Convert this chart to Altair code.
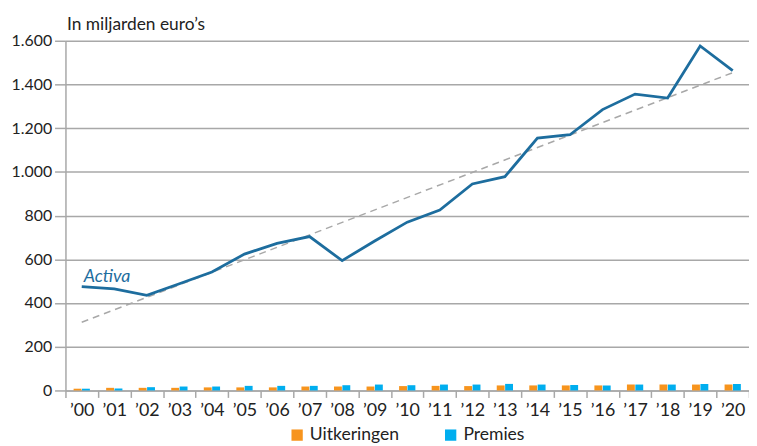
import altair as alt
import pandas as pd

labels = ["’00", "’01", "’02", "’03", "’04", "’05", "’06", "’07", "’08", "’09", "’10",
          "’11", "’12", "’13", "’14", "’15", "’16", "’17", "’18", "’19", "’20"]
activa = [475, 465, 435, 488, 542, 624, 673, 704, 594, 684, 770,
          825, 945, 978, 1155, 1170, 1285, 1356, 1338, 1576, 1463]
uitkeringen = [8, 12, 12, 12, 14, 14, 14, 18, 18, 18, 20,
               21, 20, 23, 23, 23, 23, 27, 27, 27, 27]
premies = [8, 9, 15, 18, 18, 21, 21, 21, 24, 27, 24,
           27, 27, 30, 27, 25, 23, 27, 27, 30, 30]
series = ["Uitkeringen", "Premies"]
series_colors = ["#F7941D", "#00AEEF"]
label_text = ["Activa"]
label_pos = [494]

FONT = "Lato"
LINE = "#1D6D9E"
GRID = "#A8A8A8"

df = pd.DataFrame({"jaar": labels, "i": list(range(len(labels))), "Activa": activa,
                   "Uitkeringen": uitkeringen, "Premies": premies})
bars_df = df.melt(id_vars=["jaar"], value_vars=series, var_name="reeks", value_name="waarde")

xscale = alt.Scale(domain=labels, paddingInner=0, paddingOuter=0)
yscale = alt.Scale(domain=[0, 1600])

xaxis = alt.Axis(title=None, labelAngle=0, labelFontSize=18, labelFont=FONT, labelColor="#222",
                 tickBand="extent", tickSize=7, tickColor=GRID, tickWidth=1.5,
                 domainColor=GRID, domainWidth=1.5, grid=False, labelPadding=4)
yaxis = alt.Axis(title="In miljarden euro’s", titleAngle=0, titleX=1, titleY=-11,
                 titleAlign="left", titleBaseline="alphabetic", titleFont=FONT,
                 titleFontSize=17.5, titleFontWeight="normal", titleColor="#222",
                 values=list(range(0, 1601, 200)), format=",d",
                 labelExpr="replace(datum.label, ',', '.')",
                 labelFontSize=16, labelFont=FONT, labelColor="#222", labelPadding=3,
                 tickSize=11, tickColor=GRID, tickWidth=1.5,
                 domainColor=GRID, domainWidth=1.5,
                 grid=True, gridColor=GRID, gridWidth=1.5)

bars = alt.Chart(bars_df).mark_bar().encode(
    x=alt.X("jaar:N", scale=xscale, axis=xaxis, sort=labels),
    xOffset=alt.XOffset("reeks:N", scale=alt.Scale(domain=series, paddingInner=0.06, paddingOuter=0.97)),
    y=alt.Y("waarde:Q", scale=yscale, axis=yaxis),
    color=alt.Color("reeks:N", scale=alt.Scale(domain=series, range=series_colors),
                    legend=alt.Legend(title=None, orient="none", direction="horizontal",
                                      legendX=225, legendY=389,
                                      symbolType="square", symbolSize=130, symbolStrokeWidth=0,
                                      labelFont=FONT, labelFontSize=17.7, labelColor="#222",
                                      columnPadding=43)),
)

trend = alt.Chart(df).transform_regression(
    "i", "Activa", extent=[0, 20]
).transform_calculate(
    jaar="'’' + (datum.i < 10 ? '0' : '') + toString(round(datum.i))"
).mark_line(color=GRID, strokeDash=[7, 5], strokeWidth=1.5).encode(
    x=alt.X("jaar:N", scale=xscale, sort=labels),
    y=alt.Y("Activa:Q", scale=yscale),
)

line = alt.Chart(df).mark_line(color=LINE, strokeWidth=2.8).encode(
    x=alt.X("jaar:N", scale=xscale, sort=labels),
    y=alt.Y("Activa:Q", scale=yscale),
)

text = alt.Chart(pd.DataFrame({"jaar": [labels[0]], "v": label_pos, "t": label_text})).mark_text(
    align="left", baseline="alphabetic", dx=2, font=FONT, fontSize=18, fontStyle="italic",
    color=LINE
).encode(
    x=alt.X("jaar:N", scale=xscale, sort=labels),
    y=alt.Y("v:Q", scale=yscale),
    text="t:N",
)

chart = alt.layer(bars, trend, line, text).properties(
    width=690, height=353,
    autosize=alt.AutoSizeParams(type="none"),
    padding={"left": 58, "top": 31, "right": 0, "bottom": 54},
).configure_view(stroke=None)

chart.save("out.html", embed_options={"renderer": "svg", "actions": False})
